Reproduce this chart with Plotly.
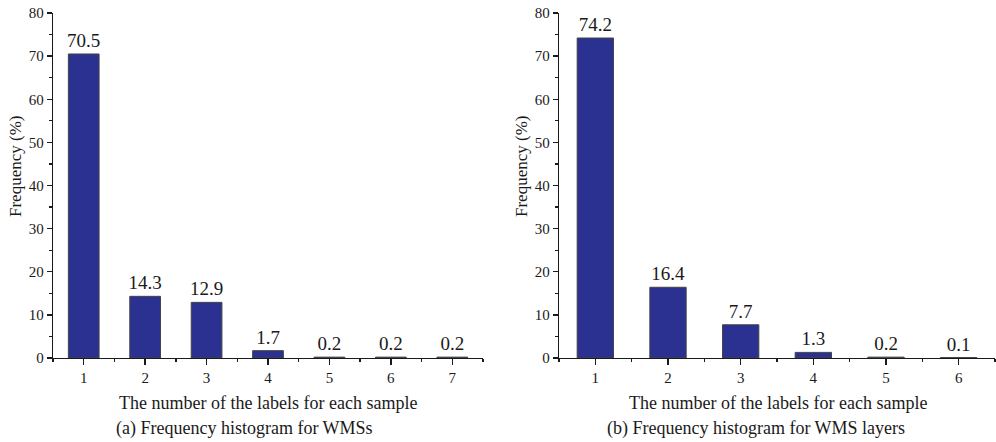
import plotly.graph_objects as go

cats_a = [1, 2, 3, 4, 5, 6, 7]
vals_a = [70.5, 14.3, 12.9, 1.7, 0.2, 0.2, 0.2]
cats_b = [1, 2, 3, 4, 5, 6]
vals_b = [74.2, 16.4, 7.7, 1.3, 0.2, 0.1]
y_ticks = [0, 10, 20, 30, 40, 50, 60, 70, 80]

W, H = 996, 442
FONT = "Liberation Serif, Times New Roman, serif"
BAR = "#2B3190"
INK = "#1a1a1a"

def px_x(v):
    return v / W

def px_y(v):
    return 1 - v / H

fig = go.Figure()
fig.add_trace(go.Bar(x=cats_a, y=vals_a, width=0.5, marker=dict(color=BAR, line=dict(color="#444", width=1)),
                     text=[f"{v:.1f}" for v in vals_a], textposition="outside", cliponaxis=False,
                     constraintext="none",
                     textfont=dict(family=FONT, size=19, color=INK), xaxis="x", yaxis="y"))
fig.add_trace(go.Bar(x=cats_b, y=vals_b, width=0.5, marker=dict(color=BAR, line=dict(color="#444", width=1)),
                     text=[f"{v:.1f}" for v in vals_b], textposition="outside", cliponaxis=False,
                     constraintext="none",
                     textfont=dict(family=FONT, size=19, color=INK), xaxis="x2", yaxis="y2"))

ydom = [px_y(358), px_y(13)]
common_x = dict(showgrid=False, zeroline=False, showline=True, linecolor=INK, linewidth=1.3,
                ticks="outside", ticklen=6, tickwidth=1.3, tickcolor=INK, automargin=False,
                tickfont=dict(family=FONT, size=15, color=INK), dtick=1,
                minor=dict(ticks="outside", ticklen=3, tickcolor=INK, dtick=0.5, tick0=0.5, showgrid=False))
common_y = dict(showgrid=False, zeroline=False, showline=True, linecolor=INK, linewidth=1.3,
                ticks="outside", ticklen=5, tickwidth=1.3, tickcolor=INK, range=[0, 80], automargin=False,
                tickvals=y_ticks, tickfont=dict(family=FONT, size=15, color=INK),
                minor=dict(ticks="outside", ticklen=3, tickcolor=INK, dtick=5, showgrid=False))

fig.update_layout(
    width=W, height=H, margin=dict(l=0, r=0, t=0, b=0, autoexpand=False),
    paper_bgcolor="white", plot_bgcolor="white", showlegend=False,
    xaxis=dict(domain=[px_x(53), px_x(483)], range=[0.5, 7.5], anchor="y", **common_x),
    yaxis=dict(domain=ydom, anchor="x", **common_y),
    xaxis2=dict(domain=[px_x(559), 0.999], range=[0.5, 6.5], anchor="y2", **common_x),
    yaxis2=dict(domain=ydom, anchor="x2", **common_y),
)

anns = [
    dict(text="The number of the labels for each sample", x=px_x(268), y=px_y(403)),
    dict(text="(a) Frequency histogram for WMSs", x=px_x(244), y=px_y(428)),
    dict(text="The number of the labels for each sample", x=px_x(778), y=px_y(403)),
    dict(text="(b) Frequency histogram for WMS layers", x=px_x(756), y=px_y(428)),
]
for a in anns:
    fig.add_annotation(xref="paper", yref="paper", showarrow=False, xanchor="center", yanchor="middle",
                       font=dict(family=FONT, size=18, color=INK), **a)
for xx in [15, 521]:
    fig.add_annotation(text="Frequency (%)", xref="paper", yref="paper", x=px_x(xx), y=px_y(166),
                       showarrow=False, textangle=-90, xanchor="center", yanchor="middle",
                       font=dict(family=FONT, size=17, color=INK))

fig.write_html("out.html", config={"displayModeBar": False, "staticPlot": True},
               post_script="document.body.style.margin='0';document.body.style.overflow='hidden';")
